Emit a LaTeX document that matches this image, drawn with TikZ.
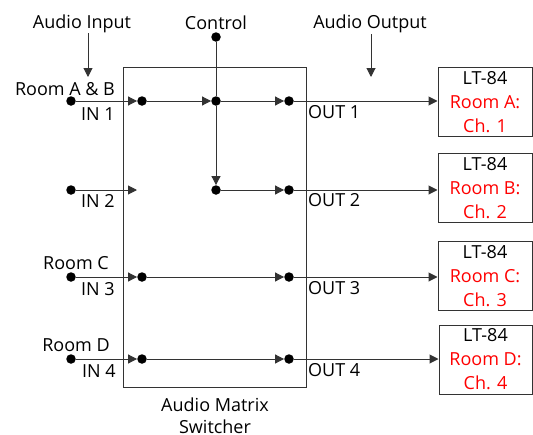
\documentclass[tikz,border=0pt]{standalone}
\usepackage{fontspec}
\setmainfont{Open Sans}
\usetikzlibrary{arrows.meta}
\begin{document}
\begin{tikzpicture}[x=1pt,y=-1pt,
  ln/.style={draw=black!80,line width=1pt},
  arr/.style={ln,-{Triangle[length=9pt,width=9pt]}},
  dot/.style={circle,fill=black,inner sep=0pt,minimum size=9.5pt},
  lbl/.style={font=\fontsize{18}{21}\selectfont,inner sep=0pt},
  outbox/.style={draw=black!80,line width=1pt,minimum width=94pt,minimum height=69pt,inner sep=0pt,align=center,font=\fontsize{18}{24}\selectfont}
]
\useasboundingbox (0,0) rectangle (533,434);
% main box
\node[draw=black!80,line width=1pt,minimum width=183pt,minimum height=320pt,inner sep=0pt] (sw) at (215,227) {};
\node[lbl,align=center,font=\fontsize{18}{22}\selectfont] (swl) at (215,416) {Audio Matrix\\Switcher};
% top labels
\node[lbl] (ai) at (82,24) {Audio Input};
\node[lbl] (ct) at (216,23) {Control};
\node[lbl] (ao) at (370,24) {Audio Output};
\coordinate (ait) at (88,33);
\coordinate (aib) at (88,77);
\coordinate (aot) at (371,34);
\coordinate (aob) at (371,77);
\draw[arr] (ait) -- (aib);
\draw[arr] (aot) -- (aob);
% dots
\node[dot] (i1) at (71,101) {};
\node[dot] (i2) at (71,190) {};
\node[dot] (i3) at (71,277) {};
\node[dot] (i4) at (71,359) {};
\node[dot] (a1) at (142,101) {};
\node[dot] (a3) at (142,277) {};
\node[dot] (a4) at (142,359) {};
\coordinate (a2) at (137,190);
\node[dot] (cc) at (216,37) {};
\node[dot] (c1) at (216,101) {};
\node[dot] (c2) at (216,190) {};
\node[dot] (o1) at (289,101) {};
\node[dot] (o2) at (289,190) {};
\node[dot] (o3) at (289,277) {};
\node[dot] (o4) at (289,359) {};
% output boxes
\node[outbox] (b1) at (485,102) {LT-84\\\textcolor{red}{Room A:}\\\textcolor{red}{Ch. 1}};
\node[outbox] (b2) at (485,188) {LT-84\\\textcolor{red}{Room B:}\\\textcolor{red}{Ch. 2}};
\node[outbox] (b3) at (485,276) {LT-84\\\textcolor{red}{Room C:}\\\textcolor{red}{Ch. 3}};
\node[outbox,minimum width=93pt] (b4) at (485.5,359.5) {LT-84\\\textcolor{red}{Room D:}\\\textcolor{red}{Ch. 4}};
% input labels
\node[lbl] (r1) at (65,89) {Room A \& B};
\node[lbl] (n1) at (98,114) {IN 1};
\node[lbl] (n2) at (98,201) {IN 2};
\node[lbl] (r3) at (76,263) {Room C};
\node[lbl] (n3) at (98,289) {IN 3};
\node[lbl] (r4) at (76,345) {Room D};
\node[lbl] (n4) at (99,371) {IN 4};
% output labels
\node[lbl,anchor=west] (u1) at (308,112) {OUT 1};
\node[lbl,anchor=west] (u2) at (308,200) {OUT 2};
\node[lbl,anchor=west] (u3) at (308,288) {OUT 3};
\node[lbl,anchor=west] (u4) at (308,370) {OUT 4};
% connections
\draw[arr] (i1) -- (a1);
\draw[arr] (a1) -- (c1);
\draw[arr] (c1) -- (o1);
\draw[arr] (o1) -- (b1.west |- o1);
\draw[arr] (i2) -- (a2);
\draw[ln] (cc) -- (c1);
\draw[arr] (c1) -- (c2);
\draw[arr] (c2) -- (o2);
\draw[arr] (o2) -- (b2.west |- o2);
\draw[arr] (i3) -- (a3);
\draw[arr] (a3) -- (o3);
\draw[arr] (o3) -- (b3.west |- o3);
\draw[arr] (i4) -- (a4);
\draw[arr] (a4) -- (o4);
\draw[arr] (o4) -- (b4.west |- o4);
\end{tikzpicture}
\end{document}
